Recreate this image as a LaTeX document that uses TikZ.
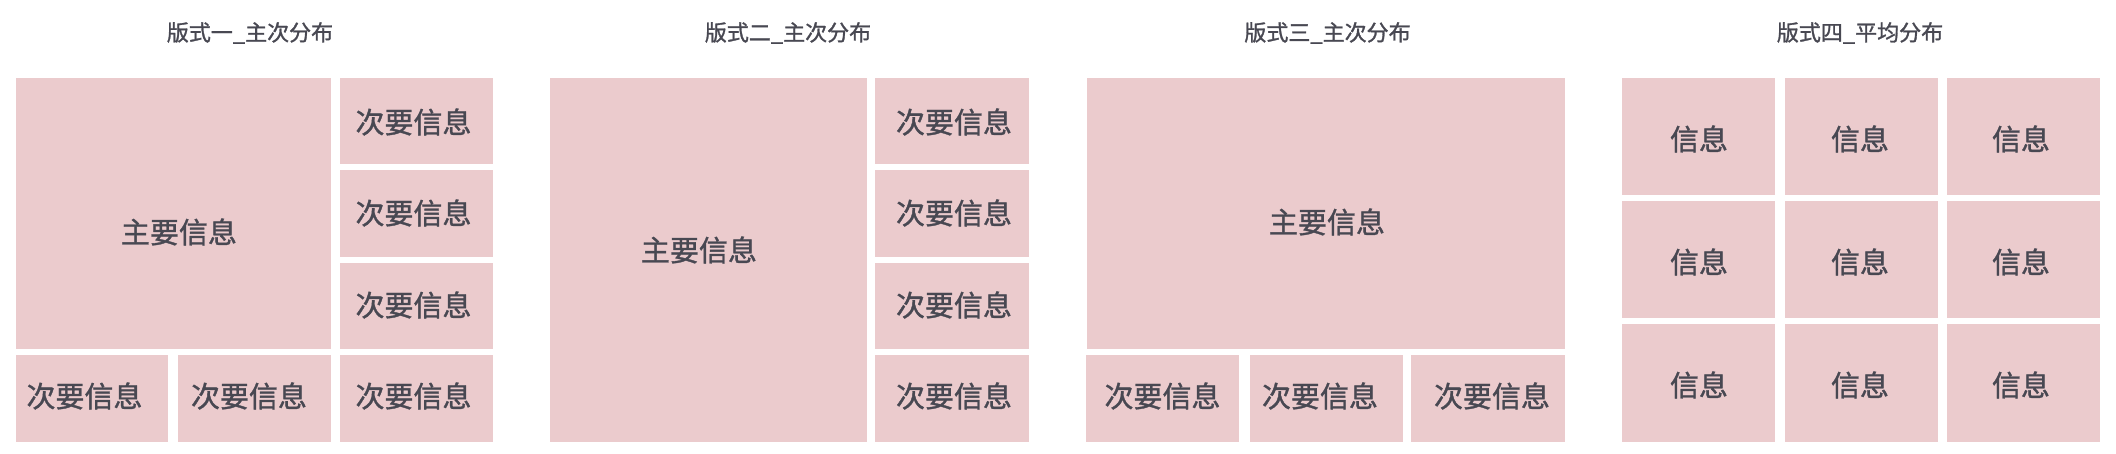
\documentclass[tikz,border=0pt]{standalone}
\usepackage{fontspec}
\setmainfont{Noto Sans CJK SC}
\newfontfamily\medfont[FakeBold=1.2]{Noto Sans CJK SC}
\definecolor{boxpink}{RGB}{235,203,205}
\definecolor{txtgray}{RGB}{72,72,82}
\newcommand{\mybox}[5]{%
  \node[box, minimum width={(#4-#2)*1pt}, minimum height={(#5-#3)*1pt}, anchor=north west] (#1) at (#2,#3) {};}
\begin{document}
\begin{tikzpicture}[x=1pt,y=-1pt,
  box/.style={fill=boxpink, draw=none, inner sep=0pt, outer sep=0pt, rectangle},
  lbl/.style={text=txtgray, font=\medfont\fontsize{29}{32}\selectfont, inner sep=0pt},
  ttl/.style={text=txtgray, font=\medfont\fontsize{22}{26}\selectfont, inner sep=0pt}]
\useasboundingbox[fill=white] (0,0) rectangle (2116,454);
% titles
\node[ttl] (t1) at (250,33) {版式一\_主次分布};
\node[ttl] (t2) at (788,33) {版式二\_主次分布};
\node[ttl] (t3) at (1327.5,33) {版式三\_主次分布};
\node[ttl] (t4) at (1860,33) {版式四\_平均分布};
% panel 1
\mybox{m1}{16}{78}{331}{349}
\mybox{r1a}{340}{78}{493}{164}
\mybox{r1b}{340}{170}{493}{257}
\mybox{r1c}{340}{263}{493}{349}
\mybox{r1d}{340}{355}{493}{442}
\mybox{b1a}{16}{355}{168}{442}
\mybox{b1b}{178}{355}{331}{442}
\node[lbl] (lm1) at (179,232) {主要信息};
\node[lbl] (lr1a) at (413.5,122) {次要信息};
\node[lbl] (lr1b) at (413.5,213) {次要信息};
\node[lbl] (lr1c) at (413.5,305) {次要信息};
\node[lbl] (lr1d) at (413.5,396) {次要信息};
\node[lbl] (lb1a) at (84.5,396) {次要信息};
\node[lbl] (lb1b) at (249,396) {次要信息};
% panel 2
\mybox{m2}{550}{78}{867}{442}
\mybox{r2a}{875}{78}{1029}{164}
\mybox{r2b}{875}{170}{1029}{257}
\mybox{r2c}{875}{263}{1029}{349}
\mybox{r2d}{875}{355}{1029}{442}
\node[lbl] (lm2) at (699,250) {主要信息};
\node[lbl] (lr2a) at (954,122) {次要信息};
\node[lbl] (lr2b) at (954,213) {次要信息};
\node[lbl] (lr2c) at (954,305) {次要信息};
\node[lbl] (lr2d) at (954,396) {次要信息};
% panel 3
\mybox{m3}{1087}{78}{1565}{349}
\mybox{b3a}{1086}{355}{1239}{442}
\mybox{b3b}{1250}{355}{1403}{442}
\mybox{b3c}{1411}{355}{1565}{442}
\node[lbl] (lm3) at (1327,222) {主要信息};
\node[lbl] (lb3a) at (1162.5,396) {次要信息};
\node[lbl] (lb3b) at (1320,396) {次要信息};
\node[lbl] (lb3c) at (1492,396) {次要信息};
% panel 4
\mybox{g11}{1622}{78}{1775}{195}
\mybox{g12}{1785}{78}{1938}{195}
\mybox{g13}{1947}{78}{2100}{195}
\mybox{g21}{1622}{201}{1775}{318}
\mybox{g22}{1785}{201}{1938}{318}
\mybox{g23}{1947}{201}{2100}{318}
\mybox{g31}{1622}{324}{1775}{442}
\mybox{g32}{1785}{324}{1938}{442}
\mybox{g33}{1947}{324}{2100}{442}
\node[lbl] (lg11) at (1699,139) {信息};
\node[lbl] (lg12) at (1860,139) {信息};
\node[lbl] (lg13) at (2021,139) {信息};
\node[lbl] (lg21) at (1699,262) {信息};
\node[lbl] (lg22) at (1860,262) {信息};
\node[lbl] (lg23) at (2021,262) {信息};
\node[lbl] (lg31) at (1699,385) {信息};
\node[lbl] (lg32) at (1860,385) {信息};
\node[lbl] (lg33) at (2021,385) {信息};
\end{tikzpicture}
\end{document}
